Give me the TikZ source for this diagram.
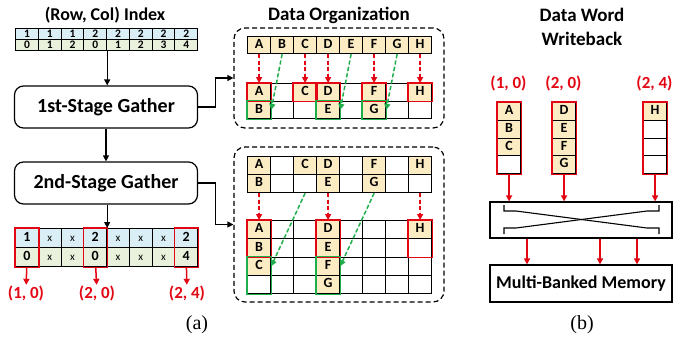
\documentclass[tikz,border=0pt]{standalone}
\usepackage{fontspec}
\setmainfont{Carlito}
\newfontfamily\capfont{Liberation Serif}
\usetikzlibrary{arrows.meta, calc}
\definecolor{cred}{HTML}{E30613}
\definecolor{cgreen}{HTML}{1FAE4B}
\definecolor{cbeige}{HTML}{FCECC4}
\definecolor{cblue}{HTML}{D9EEF5}
\definecolor{cmint}{HTML}{E9F0DC}
\newcommand{\cellx}{\mdseries\fontsize{11}{11}\selectfont x}
\tikzset{
  every picture/.style={line width=1.2pt},
  cell/.style={draw, anchor=north west, minimum width=#1, inner sep=0pt, text height=0.63em, text depth=0pt, font=\bfseries\fontsize{14}{14}\selectfont},
  cell/.default=23pt,
  idxcell/.style={cell=22.75pt, minimum height=11pt, font=\bfseries\fontsize{11.5}{11.5}\selectfont},
  stagebox/.style={draw, rounded corners=9pt, minimum width=183pt, minimum height=42pt, font=\bfseries\fontsize{20}{20}\selectfont},
  groupbox/.style={draw, dashed, dash pattern=on 5pt off 3pt, rounded corners=11pt, minimum width=210pt},
  plainbox/.style={draw, minimum width=182pt, font=\bfseries\fontsize{18}{18}\selectfont},
  title/.style={font=\bfseries\fontsize{19}{19}\selectfont},
  coord/.style={text=cred, inner sep=0pt, font=\bfseries\fontsize{17}{17}\selectfont},
  caption/.style={font=\capfont\fontsize{20}{20}\selectfont},
  arrow/.style={-{Triangle[length=6pt, width=6pt]}, draw=black},
  redarrow/.style={-{Triangle[length=6pt, width=6pt]}, draw=cred, fill=cred, line width=1.5pt},
  reddash/.style={redarrow, dashed, dash pattern=on 4pt off 2.5pt},
  greendash/.style={-{Triangle[length=6pt, width=6pt]}, draw=cgreen, fill=cgreen, line width=1.5pt, dashed, dash pattern=on 4pt off 2.5pt},
  redbox/.style={draw=cred, line width=1.4pt},
  greenbox/.style={draw=cgreen, line width=1.4pt},
}

\begin{document}
\begin{tikzpicture}[x=1pt, y=-1pt]
  \useasboundingbox (0,0) rectangle (673,341);

  % (a) gather pipeline
  \node[title, font=\bfseries\fontsize{18}{18}\selectfont] (tidx) at (105,15) {(Row, Col) Index};
  \foreach \v [count=\i] in {1,1,1,2,2,2,2,2}
    \node[idxcell, fill=cblue] (ia-\i) at ({15+(\i-1)*22.75},28) {\v};
  \foreach \v [count=\i] in {0,1,2,0,1,2,3,4}
    \node[idxcell, fill=cmint] (ib-\i) at ({15+(\i-1)*22.75},39) {\v};

  \node[stagebox] (g1) at (106,107) {1st-Stage Gather};
  \node[stagebox] (g2) at (106,183) {2nd-Stage Gather};
  \draw[arrow] (ib-4.south east) -- (ib-4.south east |- g1.north);
  \draw[arrow] (g1) -- (g2);

  \foreach \v [count=\i] in {1,\cellx,\cellx,2,\cellx,\cellx,\cellx,2}
    \node[cell=22.75pt, minimum height=19pt, fill=cblue] (oa-\i) at ({15+(\i-1)*22.75},228) {\v};
  \foreach \v [count=\i] in {0,\cellx,\cellx,0,\cellx,\cellx,\cellx,4}
    \node[cell=22.75pt, minimum height=19pt, fill=cmint] (ob-\i) at ({15+(\i-1)*22.75},247) {\v};
  \foreach \c in {1,4,8}
    \draw[redbox] (oa-\c.north west) rectangle (ob-\c.south east);
  \draw[arrow] (g2.south -| oa-4.north east) -- (oa-4.north east);

  \node[coord] (la1) at (26,293) {(1, 0)};
  \node[coord] (la2) at (97,293) {(2, 0)};
  \node[coord] (la3) at (187,293) {(2, 4)};
  \draw[redarrow] (ob-1) -- (la1);
  \draw[redarrow] (ob-4) -- (la2);
  \draw[redarrow] (ob-8) -- (la3);
  \node[caption] (capa) at (197,325) {(a)};

  % data organization, first stage
  \node[title] (tdo) at (339,15) {Data Organization};
  \node[groupbox, minimum height=100pt] (do1) at (339,78) {};
  \foreach \v [count=\i] in {A,B,C,D,E,F,G,H}
    \node[cell, minimum height=17pt, fill=cbeige] (p-\i) at ({247+(\i-1)*23},36) {\v};
  \foreach \row [count=\j] in {{A/cbeige,{}/white,C/cbeige,D/cbeige,{}/white,F/cbeige,{}/white,H/cbeige},
                               {B/cbeige,{}/white,{}/white,E/cbeige,{}/white,G/cbeige,{}/white,{}/white}}
    \foreach \v/\f [count=\i] in \row
      \node[cell, minimum height=17.5pt, fill=\f] (q-\j-\i) at ({247+(\i-1)*23},{83+(\j-1)*17.5}) {\v};
  \foreach \c in {1,3,4,6,8} {
    \draw[redbox] (q-1-\c.north west) rectangle (q-1-\c.south east);
    \draw[reddash] (p-\c) -- (q-1-\c);
  }
  \foreach \c in {1,4,6}
    \draw[greenbox] (q-2-\c.north west) rectangle (q-2-\c.south east);
  \draw[greendash] (p-2.south) -- (q-2-1.east);
  \draw[greendash] (p-5.south) -- (q-2-4.east);
  \draw[greendash] (p-7.south) -- (q-2-6.east);
  \draw[arrow] (g1.east) -- ++(17.5,0) |- (do1.west);

  % data organization, second stage
  \node[groupbox, minimum height=155pt] (do2) at (339,224.5) {};
  \foreach \row [count=\j] in {{A/cbeige,{}/white,C/cbeige,D/cbeige,{}/white,F/cbeige,{}/white,H/cbeige},
                               {B/cbeige,{}/white,{}/white,E/cbeige,{}/white,G/cbeige,{}/white,{}/white}}
    \foreach \v/\f [count=\i] in \row
      \node[cell, minimum height=18pt, fill=\f] (r-\j-\i) at ({247+(\i-1)*23},{156+(\j-1)*18}) {\v};
  \foreach \row [count=\j] in {{A/cbeige,{}/white,{}/white,D/cbeige,{}/white,{}/white,{}/white,H/cbeige},
                               {B/cbeige,{}/white,{}/white,E/cbeige,{}/white,{}/white,{}/white,{}/white},
                               {C/cbeige,{}/white,{}/white,F/cbeige,{}/white,{}/white,{}/white,{}/white},
                               {{}/white,{}/white,{}/white,G/cbeige,{}/white,{}/white,{}/white,{}/white}}
    \foreach \v/\f [count=\i] in \row
      \node[cell, minimum height=18.25pt, fill=\f] (s-\j-\i) at ({247+(\i-1)*23},{220+(\j-1)*18.25}) {\v};
  \foreach \c in {1,4,8} {
    \draw[redbox] (s-1-\c.north west) rectangle (s-2-\c.south east);
    \draw[reddash] (r-2-\c) -- (s-1-\c);
  }
  \foreach \c in {1,4}
    \draw[greenbox] (s-3-\c.north west) rectangle (s-4-\c.south east);
  \draw[greendash] (r-2-3.south) -- (s-3-1.east);
  \draw[greendash] (r-2-6.south) -- (s-3-4.east);
  \draw[arrow] (g2.east) -- ++(17.5,0) |- (do2.west);

  % (b) data word writeback
  \node[title] (twb1) at (582,15) {Data Word};
  \node[title] (twb2) at (582,39) {Writeback};
  \foreach \col/\x/\lab/\vals in {1/497/{(1, 0)}/{A/cbeige,B/cbeige,C/cbeige,{}/white},
                                   2/552/{(2, 0)}/{D/cbeige,E/cbeige,F/cbeige,G/cbeige},
                                   3/643/{(2, 4)}/{H/cbeige,{}/white,{}/white,{}/white}} {
    \node[coord] (lw-\col) at ({\x+11.5},83) {\lab};
    \foreach \v/\f [count=\i] in \vals
      \node[cell, minimum height=17.75pt, fill=\f] (w-\col-\i) at (\x,{102+(\i-1)*17.75}) {\v};
    \draw[redbox] (w-\col-1.north west) rectangle (w-\col-4.south east);
  }
  \node[plainbox, minimum height=36pt] (xbar) at (581,220) {};
  \node[plainbox, minimum height=37pt] (mem) at (581,283.5) {Multi-Banked Memory};
  \foreach \col in {1,2,3}
    \draw[redarrow] (w-\col-4) -- (w-\col-4 |- xbar.north);
  % crossbar wiring
  \draw[line width=1.1pt] (504,205) -- (504,211) -- (516,211) -- (647,228) -- (659,228) -- (659,234);
  \draw[line width=1.1pt] (659,205) -- (659,211) -- (647,211) -- (516,228) -- (504,228) -- (504,234);
  \coordinate (o1) at (527,0);
  \coordinate (o2) at (600,0);
  \coordinate (o3) at (637,0);
  \foreach \o in {o1,o2,o3}
    \draw[redarrow] (xbar.south -| \o) -- (mem.north -| \o);
  \node[caption] (capb) at (582,325) {(b)};
\end{tikzpicture}
\end{document}
